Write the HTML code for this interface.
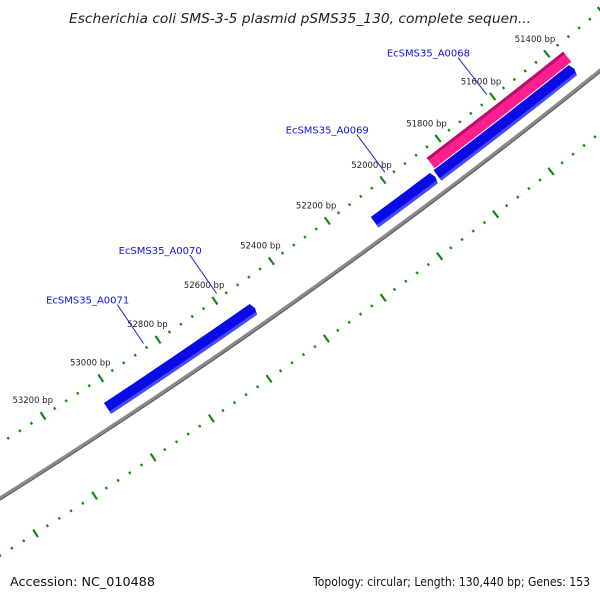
<!DOCTYPE html>
<html><head><meta charset="utf-8"><style>
html,body{margin:0;padding:0;background:#fff;width:600px;height:600px;overflow:hidden}
svg{display:block;font-family:"DejaVu Sans","Liberation Sans",sans-serif}
</style></head><body>
<svg id="map" width="600" height="600" viewBox="0 0 600 600" xmlns="http://www.w3.org/2000/svg">
<rect width="600" height="600" fill="#fff"/>
<g id="ticks"></g>
<g id="backbone"></g>
<g id="genes"></g>
<g id="labels"></g>
<text x="300" y="23" text-anchor="middle" font-size="13" font-style="italic" fill="#222" textLength="462" lengthAdjust="spacingAndGlyphs">Escherichia coli SMS-3-5 plasmid pSMS35_130, complete sequen...</text>
<text x="10" y="586" font-size="12" fill="#111" textLength="145" lengthAdjust="spacingAndGlyphs">Accession: NC_010488</text>
<text x="590" y="586" text-anchor="end" font-size="12" fill="#111" textLength="277" lengthAdjust="spacingAndGlyphs">Topology: circular; Length: 130,440 bp; Genes: 153</text>
</svg>
<script>
// ---- data ----
const geneNames = ["EcSMS35_A0068","EcSMS35_A0068b","EcSMS35_A0069","EcSMS35_A0070","EcSMS35_A0071"];
const geneStarts = [51359, 51365, 51873, 52517, 52651];
const geneEnds   = [51860, 51866, 52092, 52651, 53032];
const geneTrack  = ["pink","blue","blue","blue","blue"];
const geneArrow  = [false,true,true,true,false];
const labelNames = ["EcSMS35_A0068","EcSMS35_A0069","EcSMS35_A0070","EcSMS35_A0071"];
const labelMids  = [51610, 51982, 52584, 52841];
const majorTicks = [51000,51200,51400,51600,51800,52000,52200,52400,52600,52800,53000,53200,53400,53600,53800];
const tickLabels = ["51400 bp","51600 bp","51800 bp","52000 bp","52200 bp","52400 bp","52600 bp","52800 bp","53000 bp","53200 bp"];
const tickLabelBp = [51400,51600,51800,52000,52200,52400,52600,52800,53000,53200];
const minorStep = 40;

// ---- geometry ----
const CX=-3361, CY=-4852;
const R_BACK=6318, R_TICK_OUT=6272, R_TICK_IN=6367, R_PINK=6287, R_BLUE=6301, R_LAB=6253;
function ang(bp){return (51.46+(bp-51400)*0.00315)*Math.PI/180;}
function pt(r,bp){const a=ang(bp);return [CX+r*Math.cos(a),CY+r*Math.sin(a)];}
const NS="http://www.w3.org/2000/svg";
function mk(tag,attrs,parent){const e=document.createElementNS(NS,tag);for(const k in attrs)e.setAttribute(k,attrs[k]);parent.appendChild(e);return e;}
function arcPath(r,b0,b1){const p0=pt(r,b0),p1=pt(r,b1);return `M${p0[0]},${p0[1]} A${r},${r} 0 0 1 ${p1[0]},${p1[1]}`;}

// backbone
const bb=document.getElementById('backbone');
const sh=mk('path',{d:arcPath(R_BACK+1.5,50000,55000),stroke:'#555',"stroke-width":2,fill:'none'},bb);


const bl=mk('path',{d:arcPath(R_BACK,50000,55000),stroke:'#8a8a8a',"stroke-width":3,fill:'none'},bb);



// ticks
const tg=document.getElementById('ticks');
for(let bp=51000; bp<=53800; bp+=minorStep){
  const major = majorTicks.includes(bp);
  [R_TICK_OUT,R_TICK_IN].forEach(r=>{
    const len = major?4.5:1.3;
    const a=pt(r-len,bp), b=pt(r+len,bp);
    const l=mk('line',{x1:a[0],y1:a[1],x2:b[0],y2:b[1],stroke:'#138a13',"stroke-width":2.2},tg);
    
    
  });
}
tickLabels.forEach((t,i)=>{
  const p=pt(R_LAB,tickLabelBp[i]);
  const tx=mk('text',{x:p[0],y:p[1]+3,"text-anchor":"middle","font-size":"8.5",fill:'#222'},tg);
  tx.textContent=t;
  
  
});

// genes
const gg=document.getElementById('genes');
geneStarts.forEach((s,i)=>{
  const e=geneEnds[i], pink=geneTrack[i]==='pink';
  const r=pink?R_PINK:R_BLUE, w=13, ri=r-w/2, ro=r+w/2;
  const g=mk('g',{},gg);
  
  
  let d; const head=geneArrow[i]?6:0;
  if(!geneArrow[i]){
    const a=pt(ri,s),b=pt(ri,e),c=pt(ro,e),f=pt(ro,s);
    d=`M${a[0]},${a[1]} A${ri},${ri} 0 0 1 ${b[0]},${b[1]} L${c[0]},${c[1]} A${ro},${ro} 0 0 0 ${f[0]},${f[1]} Z`;
  } else {
    const a=pt(ri,s+head),b=pt(ri,e),c=pt(ro,e),f=pt(ro,s+head),tip=pt(r,s);
    d=`M${a[0]},${a[1]} A${ri},${ri} 0 0 1 ${b[0]},${b[1]} L${c[0]},${c[1]} A${ro},${ro} 0 0 0 ${f[0]},${f[1]} L${tip[0]},${tip[1]} Z`;
  }
  const body=mk('path',{d:d,fill:pink?'#ff1f8e':'#0a0ae6'},g);
  
  
  const er=pink?ri+1.5:ro-1.5;
  const edge=mk('path',{d:arcPath(er,s+head,e),stroke:pink?'#b8106a':'#4a4aff',"stroke-width":3,fill:'none'},g);
  
  
});

// labels
const lg=document.getElementById('labels');
labelNames.forEach((n,i)=>{
  const a=pt(6267,labelMids[i]), b=pt(6220,labelMids[i]);
  const l=mk('line',{x1:a[0],y1:a[1],x2:b[0],y2:b[1],stroke:'#2020e0',"stroke-width":1},lg);
  
  
  const t=mk('text',{x:b[0]+12,y:b[1]-1,"text-anchor":"end","font-size":"10",fill:'#1010ee'},lg);
  t.textContent=n;
  
  
});
</script>
</body></html>
